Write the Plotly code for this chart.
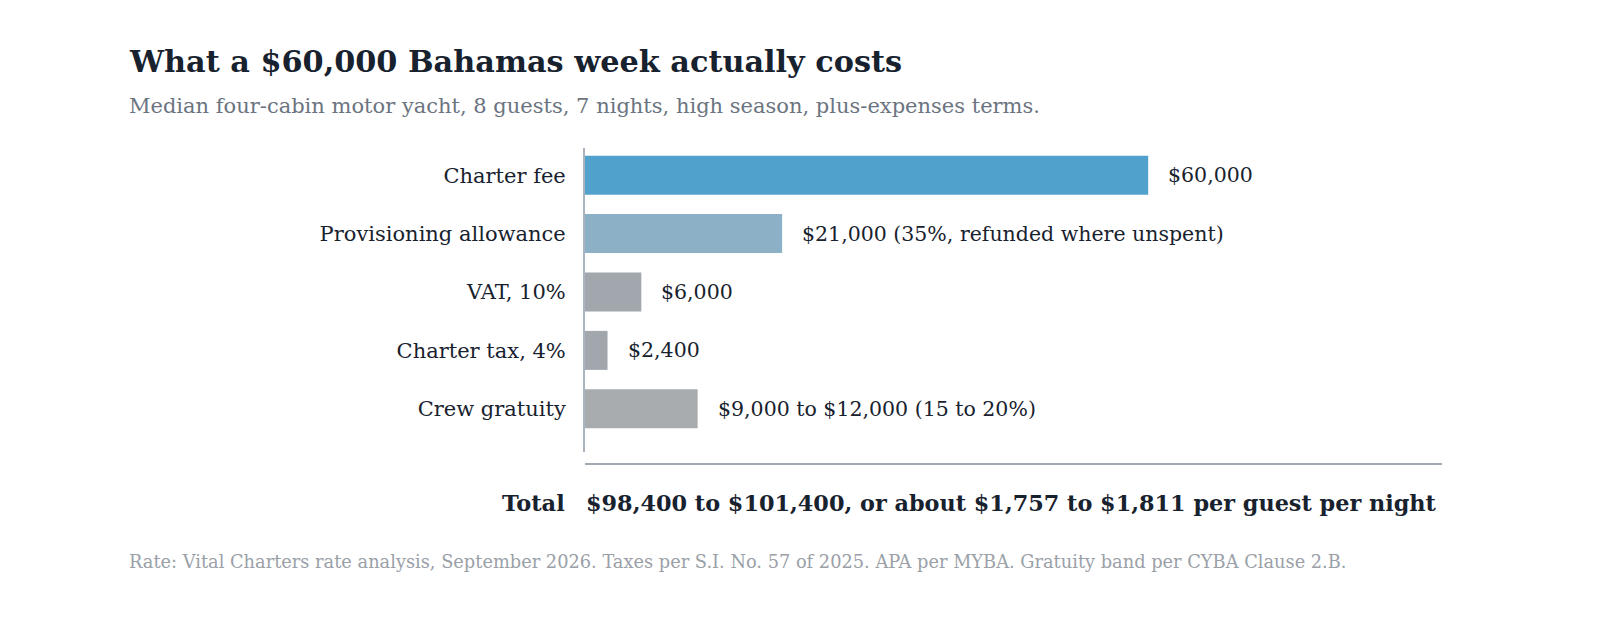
import plotly.graph_objects as go

categories = ["Charter fee", "Provisioning allowance", "VAT, 10%", "Charter tax, 4%", "Crew gratuity"]
values = [60000, 21000, 6000, 2400, 12000]
value_labels = [
    "$60,000",
    "$21,000 (35%, refunded where unspent)",
    "$6,000",
    "$2,400",
    "$9,000 to $12,000 (15 to 20%)",
]
bar_colors = ["#50a2cd", "#8cb1c6", "#a2a7ae", "#a2a7ae", "#a9acaf"]

title_text = "What a $60,000 Bahamas week actually costs"
subtitle_text = "Median four-cabin motor yacht, 8 guests, 7 nights, high season, plus-expenses terms."
total_label = "Total"
total_text = "$98,400 to $101,400, or about $1,757 to $1,811 per guest per night"
footer_text = ("Rate: Vital Charters rate analysis, September 2026. Taxes per S.I. No. 57 of 2025. "
               "APA per MYBA. Gratuity band per CYBA Clause 2.B.")

SERIF = "Georgia, 'DejaVu Serif', 'Liberation Serif', serif"
DARK = "#18222e"

# figure sized to fit the 1600x624 window inside the page's default 8px body margin
W, H = 1584, 608
L, R, T, B = 577, 150, 140, 164
ph = H - T - B
pw = W - L - R

def py(p):
    return (H - B - p) / ph

def pxx(p):
    return (p - L) / pw

fig = go.Figure()
fig.add_trace(go.Bar(
    x=values, y=categories, orientation="h",
    marker=dict(color=bar_colors, line=dict(width=0)),
    width=0.668, hoverinfo="skip",
))

for c, v, t in zip(categories, values, value_labels):
    fig.add_annotation(x=v, y=c, xref="x", yref="y", text=t, showarrow=False,
                       xanchor="left", xshift=18, font=dict(family=SERIF, size=20.5, color=DARK))

fig.add_shape(type="line", xref="paper", yref="paper", x0=0, x1=1,
              y0=py(456), y1=py(456),
              line=dict(color="#a3a9b0", width=2))

annos = [
    dict(x=pxx(119), y=py(54), text="<b>" + title_text + "</b>",
         xanchor="left", yanchor="middle", font=dict(family=SERIF, size=30.3, color=DARK)),
    dict(x=pxx(119), y=py(98), text=subtitle_text,
         xanchor="left", yanchor="middle", font=dict(family=SERIF, size=21, color="#6b7480")),
    dict(x=pxx(559), y=py(495), text="<b>" + total_label + "</b>",
         xanchor="right", yanchor="middle", font=dict(family=SERIF, size=22.5, color=DARK)),
    dict(x=pxx(576), y=py(495), text="<b>" + total_text + "</b>",
         xanchor="left", yanchor="middle", font=dict(family=SERIF, size=22.35, color=DARK)),
    dict(x=pxx(119), y=py(553), text=footer_text,
         xanchor="left", yanchor="middle", font=dict(family=SERIF, size=17.8, color="#9aa0a7")),
]
for a in annos:
    fig.add_annotation(xref="paper", yref="paper", showarrow=False, **a)

fig.update_layout(
    width=W, height=H,
    margin=dict(l=L, r=R, t=T, b=B, pad=0),
    paper_bgcolor="white", plot_bgcolor="white",
    showlegend=False,
    xaxis=dict(range=[0, 91300], showgrid=False, zeroline=False, showticklabels=False,
               showline=False, fixedrange=True),
    yaxis=dict(type="category", categoryorder="array", categoryarray=categories,
               range=[4.740, -0.466], showgrid=False, zeroline=False,
               showline=True, linecolor="#aab4c0", linewidth=2,
               ticks="", ticklabelstandoff=13,
               tickfont=dict(family=SERIF, size=21, color=DARK), fixedrange=True),
)

fig.write_html("out.html")
